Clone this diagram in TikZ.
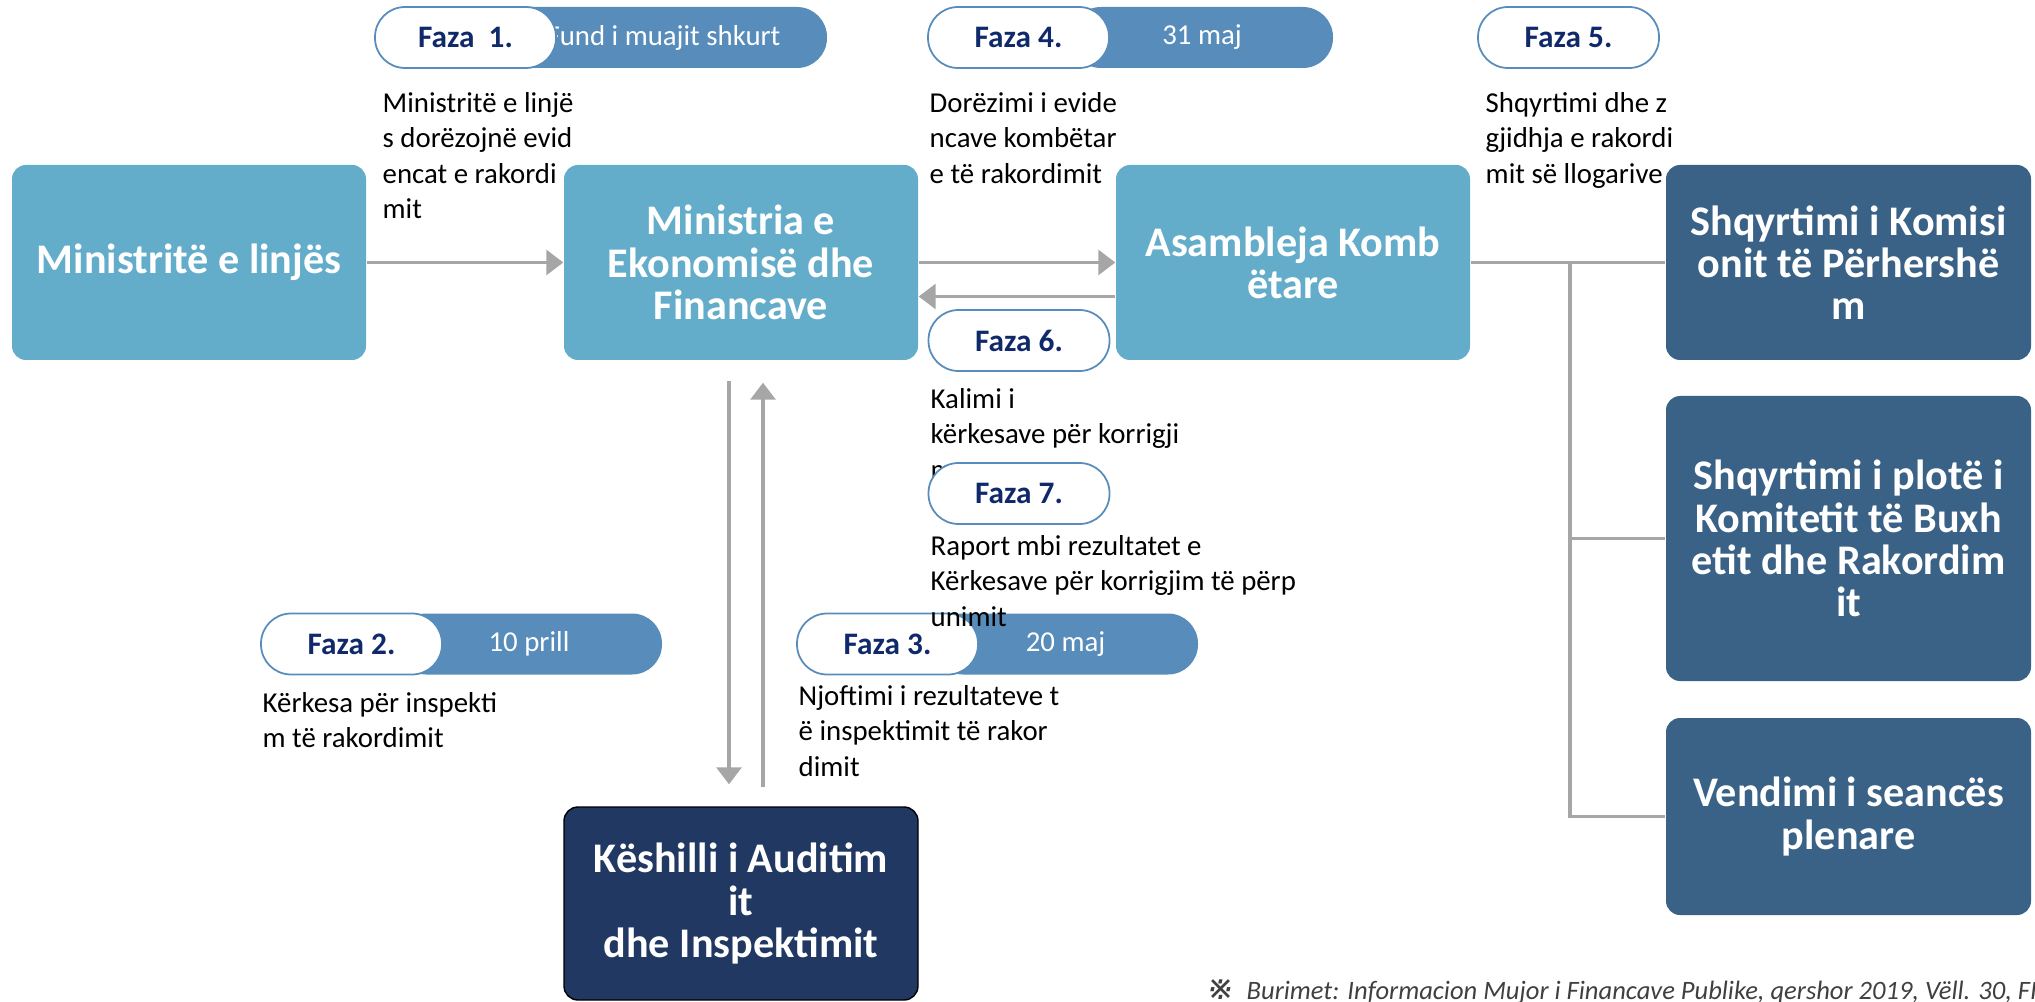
\documentclass[tikz,border=0pt]{standalone}
\usepackage{fontspec}
\setmainfont{Carlito}
\newfontfamily\marksymfont{DejaVu Sans}
\usetikzlibrary{arrows.meta}

\definecolor{boxlight}{HTML}{63ADCB}
\definecolor{boxdark}{HTML}{396286}
\definecolor{boxnavy}{HTML}{203862}
\definecolor{pillblue}{HTML}{578CBB}
\definecolor{fazanavy}{HTML}{10296B}
\definecolor{linegray}{HTML}{A6A6A6}
\definecolor{notegray}{HTML}{404040}

\tikzset{
	mainbox/.style={rounded corners=0.14cm, minimum width=3.54cm, minimum height=1.95cm, align=center, text=white, inner sep=0pt, font=\fontsize{12pt}{12pt}\selectfont\bfseries},
	lightbox/.style={mainbox, fill=boxlight},
	darkbox/.style={mainbox, fill=boxdark, minimum width=3.65cm},
	fazapill/.style={draw=pillblue, line width=0.5pt, fill=white, rounded corners=0.3cm, minimum width=1.81cm, minimum height=0.61cm, inner sep=0pt, text=fazanavy, font=\fontsize{8.9pt}{10pt}\selectfont\bfseries},
	datepill/.style={fill=pillblue, rounded corners=0.3cm, minimum height=0.61cm, inner sep=0pt, text=white, font=\fontsize{8.2pt}{10pt}\selectfont},
	desc/.style={anchor=north west, align=left, inner sep=0pt, font=\fontsize{8.2pt}{10pt}\selectfont},
	conn/.style={draw=linegray, line width=0.9pt},
	arr/.style={conn, -{Triangle[length=0.17cm, width=0.25cm]}}
}

\begin{document}
\begin{tikzpicture}
		%\draw [help lines] (0,0) grid (21,10);
		\useasboundingbox (0,0) rectangle (20.35,10.01);
		\clip (0,0) rectangle (20.35,10.01);
		% institutions
		\node[lightbox] (lin) at (1.89,7.385) {Ministritë e linjës};
		\node[lightbox] (mef) at (7.41,7.385) {Ministria e\\Ekonomisë dhe\\Financave};
		\node[lightbox] (asm) at (12.93,7.385) {Asambleja Komb\\ëtare};
		\node[darkbox] (kom) at (18.485,7.385) {Shqyrtimi i Komisi\\onit të Përhershë\\m};
		\node[darkbox, minimum height=2.85cm] (but) at (18.485,4.625) {Shqyrtimi i plotë i\\Komitetit të Buxh\\etit dhe Rakordim\\it};
		\node[darkbox, minimum height=1.97cm] (ple) at (18.485,1.845) {Vendimi i seancës\\plenare};
		\node[mainbox, fill=boxnavy, draw=black, line width=0.4pt, minimum height=1.93cm] (kes) at (7.41,0.975) {Këshilli i Auditim\\it\\dhe Inspektimit};
		% flows
		\draw[arr] (lin) -- (mef);
		\draw[arr] (mef) -- (asm);
		\draw[arr] ([yshift=-0.34cm]asm.west) -- ([yshift=-0.34cm]mef.east);
		\draw[arr] ([xshift=-0.12cm, yshift=-0.2cm]mef.south) -- ([xshift=-0.12cm, yshift=0.22cm]kes.north);
		\draw[arr] ([xshift=0.22cm, yshift=0.19cm]kes.north) -- ([xshift=0.22cm, yshift=-0.22cm]mef.south);
		\coordinate (fork) at (15.70,7.385);
		\draw[conn] (asm) -- (kom);
		\draw[conn] (fork) |- (ple);
		\draw[conn] (fork |- but) -- (but);
		% phases
		\node[datepill, minimum width=3.27cm] (d1) at (6.635,9.635) {Fund i muajit shkurt};
		\node[fazapill] (f1) at (4.655,9.635) {Faza\ \ 1.};
		\node[datepill, minimum width=2.62cm] (d4) at (12.02,9.635) {31 maj};
		\node[fazapill] (f4) at (10.185,9.635) {Faza 4.};
		\node[fazapill] (f5) at (15.685,9.635) {Faza 5.};
		\node[fazapill] (f6) at (10.19,6.605) {Faza 6.};
		\node[datepill, minimum width=2.66cm] (d2) at (5.29,3.57) {10 prill};
		\node[fazapill] (f2) at (3.515,3.57) {Faza 2.};
		\node[desc] (t1) at (3.82,9.09) {Ministritë e linjë\\s dorëzojnë evid\\encat e rakordi\\mit};
		\node[desc] (t4) at (9.29,9.09) {Dorëzimi i evide\\ncave kombëtar\\e të rakordimit};
		\node[desc] (t5) at (14.85,9.09) {Shqyrtimi dhe z\\gjidhja e rakordi\\mit së llogarive};
		\node[desc] (t6) at (9.30,6.13) {Kalimi i\\kërkesave për korrigji\\m};
		\node[desc] (t2) at (2.62,3.09) {Kërkesa për inspekti\\m të rakordimit};
		\node[desc] (t3) at (7.98,3.16) {Njoftimi i rezultateve t\\ë inspektimit të rakor\\dimit};
		\node[fazapill] (f7) at (10.19,5.075) {Faza 7.};
		\node[datepill, minimum width=2.65cm] (d3) at (10.655,3.57) {20 maj};
		\node[fazapill] (f3) at (8.875,3.57) {Faza 3.};
		\node[desc] (t7) at (9.30,4.66) {Raport mbi rezultatet e\\Kërkesave për korrigjim të përp\\unimit};
		% source
		\node[anchor=base west, inner sep=0pt, text=notegray, font=\fontsize{7.55pt}{8pt}\selectfont\itshape] (src) at (12.06,0.02) {{\marksymfont\fontsize{9.5pt}{9.5pt}\selectfont ※}\hspace{0.12cm}Burimet: Informacion Mujor i Financave Publike, qershor 2019, Vëll. 30, FI};
	\end{tikzpicture}
\end{document}
